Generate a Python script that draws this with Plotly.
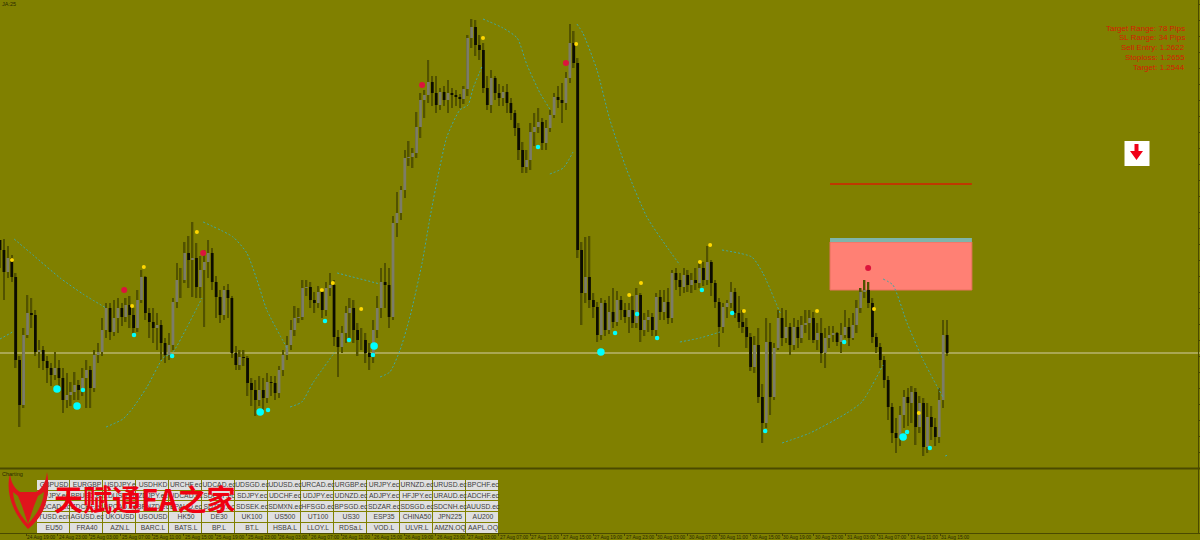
"""
Forex chart screenshot (MT4 style): candles, signal dots, trade box, symbol panel.
Levels are read off the chart's own vertical scale, x positions are bar numbers.
"""

import plotly.graph_objects as go

BG = '#808000'
DARK = '#4a4a00'
BAR_STEP = 3.93  # pixels per bar

closes = [
    218, 196, 210, 191, 108, 63, 133, 155, 153, 116,
    118, 107, 100, 93, 100, 90, 68, 73, 76, 83,
    78, 90, 98, 80, 113, 116, 138, 160, 136, 150,
    160, 151, 163, 153, 140, 168, 191, 155, 146, 140,
    143, 125, 113, 123, 166, 188, 188, 215, 208, 210,
    181, 198, 206, 215, 186, 171, 153, 178, 170, 115,
    103, 111, 110, 85, 78, 68, 78, 70, 86, 85,
    75, 98, 113, 123, 138, 150, 151, 180, 181, 168,
    165, 176, 158, 180, 183, 131, 121, 135, 155, 160,
    138, 128, 128, 115, 111, 138, 160, 186, 183, 151,
    245, 255, 278, 310, 311, 315, 341, 368, 373, 386,
    375, 363, 376, 368, 375, 373, 371, 369, 379, 430,
    441, 423, 418, 380, 363, 390, 375, 370, 376, 365,
    355, 340, 318, 301, 308, 336, 341, 346, 325, 340,
    353, 371, 368, 365, 390, 425, 405, 218, 175, 191,
    168, 161, 133, 165, 138, 156, 146, 168, 158, 151,
    158, 145, 173, 138, 148, 151, 138, 171, 156, 166,
    150, 195, 188, 181, 193, 183, 188, 185, 200, 188,
    206, 185, 166, 141, 161, 165, 176, 155, 146, 141,
    131, 101, 123, 71, 45, 126, 71, 120, 150, 130,
    141, 123, 141, 130, 143, 145, 150, 128, 135, 115,
    130, 133, 135, 126, 133, 141, 130, 143, 160, 176,
    178, 165, 131, 121, 108, 88, 61, 35, 30, 53,
    71, 65, 76, 41, 65, 21, 51, 41, 31, 68,
    133, 115,
]
highs = [
    228, 229, 222, 213, 195, 112, 140, 173, 170, 158,
    128, 122, 112, 105, 116, 108, 100, 95, 86, 96,
    88, 100, 108, 102, 118, 125, 150, 165, 165, 168,
    170, 165, 170, 172, 160, 178, 198, 192, 160, 160,
    155, 148, 130, 135, 170, 205, 200, 226, 232, 246,
    225, 212, 218, 228, 220, 192, 178, 182, 184, 172,
    122, 118, 118, 112, 90, 88, 92, 90, 95, 92,
    92, 102, 118, 132, 148, 162, 160, 188, 188, 186,
    176, 182, 180, 186, 195, 188, 138, 142, 162, 170,
    168, 145, 140, 135, 125, 148, 172, 200, 205, 200,
    252, 276, 282, 318, 327, 320, 356, 375, 378, 408,
    392, 392, 380, 382, 388, 380, 378, 374, 382, 433,
    449, 448, 433, 425, 392, 398, 392, 384, 382, 384,
    370, 358, 345, 326, 318, 345, 355, 360, 350, 348,
    358, 375, 382, 385, 396, 444, 437, 410, 226, 231,
    232, 175, 166, 170, 168, 172, 180, 177, 172, 165,
    165, 172, 180, 175, 155, 158, 155, 175, 178, 178,
    180, 198, 200, 195, 200, 198, 195, 200, 205, 206,
    222, 208, 188, 170, 165, 168, 186, 180, 172, 158,
    150, 135, 132, 140, 84, 150, 145, 125, 158, 160,
    158, 145, 150, 148, 152, 158, 158, 156, 145, 150,
    140, 142, 142, 136, 145, 158, 150, 155, 168, 180,
    188, 186, 170, 135, 125, 112, 92, 65, 50, 62,
    78, 80, 82, 80, 72, 70, 65, 62, 50, 80,
    148, 148,
]
lows = [
    200, 168, 190, 186, 100, 41, 60, 130, 140, 112,
    100, 98, 85, 82, 88, 78, 55, 60, 62, 68,
    68, 72, 60, 60, 76, 105, 112, 130, 128, 132,
    135, 142, 146, 140, 135, 136, 165, 148, 130, 125,
    118, 108, 105, 108, 118, 160, 170, 185, 180, 171,
    170, 170, 141, 190, 178, 150, 145, 148, 150, 110,
    98, 98, 102, 72, 62, 52, 62, 58, 65, 72,
    68, 70, 92, 108, 118, 132, 145, 148, 172, 160,
    155, 160, 150, 152, 172, 122, 91, 115, 125, 128,
    125, 112, 118, 105, 98, 105, 130, 150, 160, 140,
    148, 231, 248, 270, 302, 300, 310, 330, 350, 365,
    362, 355, 358, 362, 355, 360, 362, 360, 364, 372,
    420, 412, 408, 375, 358, 355, 368, 362, 362, 355,
    348, 332, 308, 295, 295, 298, 322, 335, 318, 318,
    336, 350, 360, 345, 358, 385, 400, 210, 143, 165,
    160, 150, 126, 128, 132, 134, 140, 142, 148, 145,
    135, 140, 140, 126, 132, 136, 132, 132, 148, 148,
    144, 145, 178, 172, 175, 176, 175, 178, 180, 182,
    183, 172, 160, 121, 135, 150, 160, 150, 140, 135,
    120, 97, 95, 65, 25, 40, 53, 68, 118, 122,
    125, 113, 118, 120, 125, 135, 128, 125, 118, 105,
    100, 120, 126, 122, 115, 130, 122, 128, 135, 155,
    170, 160, 125, 115, 100, 80, 48, 25, 15, 22,
    40, 42, 45, 23, 35, 12, 15, 28, 22, 25,
    60, 112,
]

# signal dots
yellow_bars = [3.05, 50.1, 36.6, 33.6, 81.9, 84.7, 91.9, 122.9, 146.6, 163.1, 160.1, 180.7, 178.1, 189.3, 207.9, 222.4, 233.8]
yellow_levels = [208, 236, 201, 162, 178, 185, 159, 430, 424, 185, 173, 223, 206, 157, 157, 159, 55]
cyan_bars = [21.1, 34.1, 43.8, 68.2, 82.7, 88.8, 94.9, 136.9, 156.5, 162.1, 167.2, 178.6, 186.3, 194.7, 214.8, 230.8, 236.6]
cyan_levels = [78, 133, 112, 58, 147, 128, 113, 321, 135, 154, 130, 178, 155, 37, 126, 36, 20]
big_cyan_bars = [14.5, 19.6, 66.2, 95.2, 152.9, 229.8]
big_cyan_levels = [79, 62, 56, 122, 116, 31]
crimson_bars = [31.6, 51.7, 107.4, 144.0, 220.9]
crimson_levels = [178, 215, 383, 405, 200]

# dotted curve, None breaks it between legs
curve_bars = [
    0, 3.2, None,
    3.6, 8.4, 15.3, 21.1, 27, None,
    27, 31.3, 33.8, 37.4, 41.5, 44, 47.6, 51.4, None,
    51.7, 59.3, 62.8, 65.4, 67.9, 73.3, None,
    73.8, 76.8, 79.6, 85.2, None,
    85.8, 96.7, None,
    96.7, 99.2, 101.8, 104.3, 107.4, 109.4, 111.5, 113.7, 117, 119.1, 120.4, 122.6, None,
    122.9, 128, 131.6, 134.1, 137.4, 139.9, None,
    139.9, 143.3, 145.8, None,
    146.8, 148.3, 151.9, 155.2, 159.5, 164.6, 169.7, 173, None,
    173, 178.1, 183.2, None,
    183.7, 191.3, 194.1, 198.5, None,
    199, 206.1, 215.5, 219.3, 224.7, None,
    224.7, 227.2, 230.8, 234.9, 239.9, None,
    240.5, 241.2,
]
curve_levels = [
    129, 136, None,
    229, 213, 190, 174, 160, None,
    41, 49, 60, 81, 110, 116, 141, 170, None,
    246, 231, 215, 188, 158, 118, None,
    61, 66, 85, 116, None,
    195, 184, None,
    91, 96, 118, 151, 205, 250, 293, 331, 358, 363, 380, 401, None,
    449, 440, 430, 403, 375, 359, None,
    294, 300, 316, None,
    444, 435, 398, 348, 298, 251, 221, 203, None,
    126, 130, 136, None,
    218, 211, 195, 155, None,
    25, 35, 55, 66, 103, None,
    189, 183, 145, 108, 71, None,
    12, 13,
]

# trade levels
mid_line = 115
stop_line = 284
box_bars = [211.2, 247.3]
box_levels = [178, 226, 230]

info_lines = ['Target Range: 78 Pips', 'SL Range: 34 Pips', 'Sell Entry: 1.2622', 'Stoploss: 1.2655', 'Target: 1.2544']

time_labels = [
    '24 Aug 15:00', '24 Aug 19:00', '24 Aug 23:00',
    '25 Aug 03:00', '25 Aug 07:00', '25 Aug 11:00', '25 Aug 15:00', '25 Aug 19:00', '25 Aug 23:00',
    '26 Aug 03:00', '26 Aug 07:00', '26 Aug 11:00', '26 Aug 15:00', '26 Aug 19:00', '26 Aug 23:00',
    '27 Aug 03:00', '27 Aug 07:00', '27 Aug 11:00', '27 Aug 15:00', '27 Aug 19:00', '27 Aug 23:00',
    '30 Aug 03:00', '30 Aug 07:00', '30 Aug 11:00', '30 Aug 15:00', '30 Aug 19:00', '30 Aug 23:00',
    '31 Aug 03:00', '31 Aug 07:00', '31 Aug 11:00', '31 Aug 15:00',
]

symbols = [
    ['GBPUSD', 'EURGBP', 'USDJPY.e', 'USDHKD', 'URCHF.ec', 'UDCAD.ec', 'UDSGD.ec', 'UDUSD.ec', 'URCAD.ec', 'URGBP.ec', 'URJPY.ec', 'URNZD.ec', 'URUSD.ec', 'BPCHF.ec'],
    ['BPJPY.ec', 'BPUSD.ec', 'ZDUSD.ec', 'ZDJPY.ec', 'UDCAD.ec', 'SDCHF.ec', 'SDJPY.ec', 'UDCHF.ec', 'UDJPY.ec', 'UDNZD.ec', 'ADJPY.ec', 'HFJPY.ec', 'URAUD.ec', 'ADCHF.ec'],
    ['ZDCAD.ec', 'ZDCHF.ec', 'BPCAD.ec', 'BPNZD.ec', 'BPAUD.ec', 'SDTRY.ec', 'SDSEK.ec', 'SDMXN.ec', 'HFSGD.ec', 'BPSGD.ec', 'SDZAR.ec', 'SDSGD.ec', 'SDCNH.ec', 'AUUSD.ec'],
    ['TUSD.ecn', 'AGUSD.ec', 'UKOUSD', 'USOUSD', 'HK50', 'DE30', 'UK100', 'US500', 'UT100', 'US30', 'ESP35', 'CHINA50', 'JPN225', 'AU200'],
    ['EU50', 'FRA40', 'AZN.L', 'BARC.L', 'BATS.L', 'BP.L', 'BT.L', 'HSBA.L', 'LLOY.L', 'RDSa.L', 'VOD.L', 'ULVR.L', 'AMZN.OQ', 'AAPL.OQ'],
]

bars = list(range(len(closes)))
opens = [closes[0] + 10] + closes[:-1]
body_base = [min(o, c) for o, c in zip(opens, closes)]
body_size = [abs(o - c) for o, c in zip(opens, closes)]
body_colors = ['#7c7c68' if c > o else '#0c0c00' for o, c in zip(opens, closes)]

fig = go.Figure()

# wicks then bodies
fig.add_trace(go.Bar(
    x=bars, base=lows, y=[h - l for h, l in zip(highs, lows)],
    width=0.4, marker=dict(color='#525200', line=dict(width=0)), hoverinfo='skip'
))
fig.add_trace(go.Bar(
    x=bars, base=body_base, y=body_size,
    width=0.7, marker=dict(color=body_colors, line=dict(width=0)), hoverinfo='skip'
))

fig.add_trace(go.Scatter(
    x=curve_bars, y=curve_levels, mode='lines', connectgaps=False,
    line=dict(color='#40a8a4', width=1, dash='2px,2px', shape='spline', smoothing=0.6)
))

for xs, ys, color, size in [
    (yellow_bars, yellow_levels, '#ffd700', 4),
    (cyan_bars, cyan_levels, '#00ffff', 4.5),
    (big_cyan_bars, big_cyan_levels, '#00ffff', 7.5),
    (crimson_bars, crimson_levels, '#dc143c', 6),
]:
    fig.add_trace(go.Scatter(
        x=xs, y=ys, mode='markers',
        marker=dict(color=color, size=size, line=dict(width=0))
    ))

# symbol panel, on a full-page helper axis pair
col_centers = [37 + 33 * (i + 0.5) for i in range(len(symbols[0]))]
row_centers = [480 + 10.7 * (i + 0.5) for i in range(len(symbols))]
fig.add_trace(go.Heatmap(
    x=col_centers, y=row_centers,
    z=[[1] * len(row) for row in symbols],
    text=symbols, texttemplate='%{text}',
    textfont=dict(family='Liberation Sans', size=6.8, color='#3c3c3c'),
    colorscale=[[0, '#e0e0e0'], [1, '#e0e0e0']], showscale=False,
    xgap=1, ygap=1, hoverinfo='skip', xaxis='x2', yaxis='y2'
))

shapes = [
    dict(type='line', xref='x', yref='y', x0=0, x1=1200 / BAR_STEP, y0=mid_line, y1=mid_line,
         line=dict(color='#b9b56e', width=1.5), layer='below'),
    dict(type='rect', xref='x', yref='y', x0=box_bars[0], x1=box_bars[1], y0=box_levels[0], y1=box_levels[1],
         fillcolor='#ff8074', line=dict(color='#e8705f', width=1), layer='below'),
    dict(type='rect', xref='x', yref='y', x0=box_bars[0], x1=box_bars[1], y0=box_levels[1], y1=box_levels[2],
         fillcolor='#7fb5aa', line=dict(width=0), layer='below'),
    dict(type='line', xref='x', yref='y', x0=box_bars[0], x1=box_bars[1], y0=stop_line, y1=stop_line,
         line=dict(color='#d42000', width=1.5), layer='below'),
    # pane separator and right border
    dict(type='line', xref='x2', yref='y2', x0=0, x1=1200, y0=468.5, y1=468.5, line=dict(color=DARK, width=2)),
    dict(type='line', xref='x2', yref='y2', x0=1198.5, x1=1198.5, y0=0, y1=533, line=dict(color=DARK, width=1)),
    # sell arrow badge
    dict(type='rect', xref='x2', yref='y2', x0=1124.5, x1=1149.5, y0=141, y1=166,
         fillcolor='white', line=dict(width=0)),
    dict(type='path', xref='x2', yref='y2', fillcolor='#f00018', line=dict(width=0),
         path='M1134.5,144 L1138.5,144 L1138.5,151 L1143,151 L1136.5,160 L1130,151 L1134.5,151 Z'),
    # logo shield
    dict(type='path', xref='x2', yref='y2', fillcolor='#e0141c', line=dict(width=0),
         path='M10,474 C6,490 10,510 28,529 C42,518 52,500 47,472 C46,484 40,490 36,492 L20,492 C14,488 11,482 10,474 Z'),
    dict(type='path', xref='x2', yref='y2', fillcolor=BG, line=dict(width=0),
         path='M13,492 C14,505 20,515 28,524 L22,506 L18,496 Z'),
    dict(type='path', xref='x2', yref='y2', fillcolor=BG, line=dict(width=0),
         path='M44,492 C43,505 36,515 28,524 L34,506 L38,496 Z'),
]

annotations = []
for k, label in enumerate(time_labels):
    annotations.append(dict(
        x=-1.4 + k * 8.02, y=537, xref='x', yref='y2', text=label, showarrow=False,
        xanchor='left', yanchor='middle', xshift=-1,
        font=dict(family='Liberation Sans', size=4.8, color='#2a2a00')
    ))
for k, line in enumerate(info_lines):
    annotations.append(dict(
        x=1184, y=28 + k * 9.8, xref='x2', yref='y2', text=line, showarrow=False,
        xanchor='right', yanchor='middle', xshift=3,
        font=dict(family='Liberation Sans', size=8, color='#d42000')
    ))
annotations.append(dict(x=0, y=4, xref='x2', yref='y2', text='JA:25', showarrow=False, xanchor='left',
                        font=dict(family='Liberation Sans', size=5.5, color='#2a2a00')))
annotations.append(dict(x=0, y=474, xref='x2', yref='y2', text='Charting', showarrow=False, xanchor='left',
                        font=dict(family='Liberation Sans', size=5.5, color='#2a2a00')))
annotations.append(dict(x=144, y=498, xref='x2', yref='y2', text='<b>天赋通EA之家</b>', showarrow=False,
                        xanchor='center', yanchor='middle',
                        font=dict(family='Noto Sans CJK SC', size=29, color='#f00010')))

fig.update_layout(
    width=1200, height=540,
    margin=dict(l=0, r=0, t=0, b=0),
    paper_bgcolor=BG, plot_bgcolor='rgba(0,0,0,0)',
    barmode='overlay', showlegend=False,
    shapes=shapes, annotations=annotations,
    xaxis=dict(
        domain=[0, 1], range=[0, 1200 / BAR_STEP], anchor='free', position=7 / 540,
        showgrid=False, zeroline=False, showline=True, linecolor=DARK, linewidth=1,
        ticks='outside', ticklen=2, tickcolor=DARK, showticklabels=False,
        tickvals=[-1.4 + k * 8.02 for k in range(len(time_labels))]
    ),
    yaxis=dict(
        domain=[72 / 540, 1], range=[0, 468], side='right', anchor='x',
        showgrid=False, zeroline=False, showticklabels=False,
        ticks='inside', ticklen=2, tickcolor=DARK, dtick=16
    ),
    xaxis2=dict(domain=[0, 1], range=[0, 1200], visible=False, anchor='y2', fixedrange=True),
    yaxis2=dict(domain=[0, 1], range=[540, 0], visible=False, anchor='x2', fixedrange=True),
)

# the page's default body margin would push the chart off the window
fig.write_html("out.html", config={'displayModeBar': False},
               post_script="document.body.style.margin='0';")
